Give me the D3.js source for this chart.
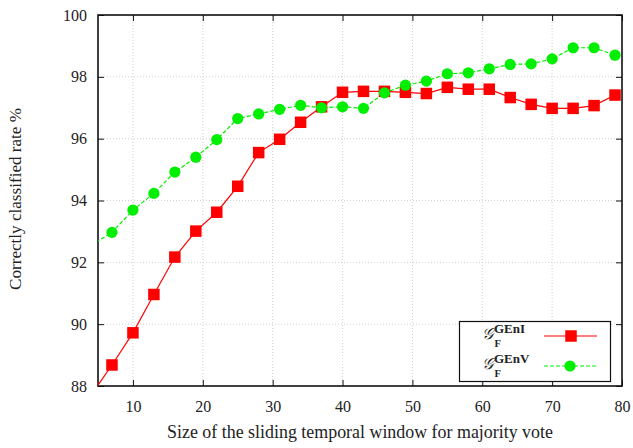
<!DOCTYPE html>
<html>
<head>
<meta charset="utf-8">
<script src="https://cdn.jsdelivr.net/npm/d3@7"></script>
<style>
  body { margin: 0; background: #fff; }
  text { font-family: "Liberation Serif", "DejaVu Serif", serif; fill: #222; }
</style>
</head>
<body>
<div id="chart"></div>
<script>
(function () {
  var width = 633,
    height = 448;

  // window sizes (x=4 lies left of the axis and is clipped)
  var windowSizes = [4, 7, 10, 13, 16, 19, 22, 25, 28, 31, 34, 37, 40, 43, 46, 49, 52, 55, 58, 61, 64, 67, 70, 73, 76, 79];
  var genI = [87.7, 88.68, 89.72, 90.96, 92.17, 93.01, 93.62, 94.46, 95.55, 95.98, 96.53, 97.03, 97.5, 97.53, 97.53, 97.5, 97.46, 97.66, 97.6, 97.6, 97.33, 97.11, 96.98, 96.98, 97.07, 97.41];
  var genV = [92.55, 92.97, 93.69, 94.23, 94.92, 95.4, 95.97, 96.65, 96.8, 96.95, 97.08, 97.0, 97.03, 96.98, 97.48, 97.73, 97.86, 98.1, 98.13, 98.26, 98.4, 98.42, 98.58, 98.94, 98.94, 98.7];
  var xTicks = [10, 20, 30, 40, 50, 60, 70, 80];
  var yTicks = [88, 90, 92, 94, 96, 98, 100];
  var seriesNames = ["GEnI", "GEnV"];

  var margin = { left: 98, right: 11, top: 15, bottom: 62 };

  var svg = d3.select("#chart")
    .append("svg")
    .attr("width", width)
    .attr("height", height)

  var x = d3.scaleLinear().domain([5, 80]).range([margin.left, width - margin.right]);
  var y = d3.scaleLinear().domain([88, 100]).range([height - margin.bottom, margin.top]);

  svg.append("clipPath").attr("id", "plot-clip")
    .append("rect")
    .attr("x", x(5)).attr("y", y(100))
    .attr("width", x(80) - x(5)).attr("height", y(88) - y(100))

  // grid
  var grid = svg.append("g").attr("class", "grid")
  grid.selectAll(".gx")
    .data(xTicks.filter(function (d) { return d < 80; }))
    .enter().append("line")
    .attr("x1", function (d) { return x(d); })
    .attr("x2", function (d) { return x(d); })
    .attr("y1", y(88)).attr("y2", y(100))
    .attr("stroke", "#c4c4c4").attr("stroke-width", 0.8).attr("stroke-dasharray", "1,2")
  grid.selectAll(".gy")
    .data(yTicks.filter(function (d) { return d > 88 && d < 100; }))
    .enter().append("line")
    .attr("y1", function (d) { return y(d); })
    .attr("y2", function (d) { return y(d); })
    .attr("x1", x(5)).attr("x2", x(80))
    .attr("stroke", "#c4c4c4").attr("stroke-width", 0.8).attr("stroke-dasharray", "1,2")

  // axes with inward ticks on all sides
  var tickLen = 6;
  svg.append("g")
    .attr("transform", "translate(0," + y(88) + ")")
    .call(d3.axisBottom(x).tickValues(xTicks).tickSizeInner(-tickLen).tickSizeOuter(0).tickPadding(15))
  svg.append("g")
    .attr("transform", "translate(0," + y(100) + ")")
    .call(d3.axisTop(x).tickValues(xTicks).tickSizeInner(-tickLen).tickSizeOuter(0).tickFormat(""))
  svg.append("g")
    .attr("transform", "translate(" + x(5) + ",0)")
    .call(d3.axisLeft(y).tickValues(yTicks).tickSizeInner(-tickLen).tickSizeOuter(0).tickPadding(11))
  svg.append("g")
    .attr("transform", "translate(" + x(80) + ",0)")
    .call(d3.axisRight(y).tickValues(yTicks).tickSizeInner(-tickLen).tickSizeOuter(0).tickFormat(""))

  svg.selectAll(".domain").remove()
  svg.selectAll(".tick line").attr("stroke", "#111").attr("stroke-width", 1)
  svg.selectAll(".tick text")
    .attr("font-size", "16px")
    .attr("fill", "#222")

  svg.append("rect")
    .attr("x", x(5)).attr("y", y(100))
    .attr("width", x(80) - x(5)).attr("height", y(88) - y(100))
    .attr("fill", "none").attr("stroke", "#111").attr("stroke-width", 1.6)

  // series
  var pointsI = windowSizes.map(function (d, i) { return { x: d, v: genI[i] }; });
  var pointsV = windowSizes.map(function (d, i) { return { x: d, v: genV[i] }; });

  var line = d3.line()
    .x(function (d) { return x(d.x); })
    .y(function (d) { return y(d.v); })

  var plot = svg.append("g").attr("clip-path", "url(#plot-clip)")

  plot.append("path")
    .datum(pointsV)
    .attr("d", line)
    .attr("fill", "none").attr("stroke", "#00ee00").attr("stroke-width", 1.2).attr("stroke-dasharray", "4,2")
  plot.append("path")
    .datum(pointsI)
    .attr("d", line)
    .attr("fill", "none").attr("stroke", "#ff0000").attr("stroke-width", 1.2)

  var sq = 11.5;
  plot.selectAll(".sq")
    .data(pointsI.filter(function (d) { return d.x >= 5; }))
    .enter().append("rect")
    .attr("x", function (d) { return x(d.x) - sq / 2; })
    .attr("y", function (d) { return y(d.v) - sq / 2; })
    .attr("width", sq).attr("height", sq)
    .attr("fill", "#ff0000")
  plot.selectAll(".dot")
    .data(pointsV.filter(function (d) { return d.x >= 5; }))
    .enter().append("circle")
    .attr("cx", function (d) { return x(d.x); })
    .attr("cy", function (d) { return y(d.v); })
    .attr("r", 5.6)
    .attr("fill", "#00ee00")

  // axis titles, sized to the widths seen in the reference
  function fitText(sel, target) {
    var w = sel.node().getComputedTextLength();
    if (w > 0) sel.attr("font-size", (16 * target / w).toFixed(2) + "px");
  }
  var xTitle = svg.append("text")
    .attr("x", 360)
    .attr("y", 438)
    .attr("text-anchor", "middle")
    .attr("font-size", "16px")
    .text("Size of the sliding temporal window for majority vote")
  fitText(xTitle, 386)
  var yTitle = svg.append("text")
    .attr("transform", "translate(21,199) rotate(-90)")
    .attr("text-anchor", "middle")
    .attr("font-size", "16px")
    .text("Correctly classified rate %")
  fitText(yTitle, 182)

  // legend
  var legend = svg.append("g")
  legend.append("rect")
    .attr("x", 459.5).attr("y", 321.5).attr("width", 151).attr("height", 60)
    .attr("fill", "#fff").attr("stroke", "#111").attr("stroke-width", 1.2)

  var entries = [
    { name: seriesNames[0], color: "#ff0000", dash: null, shape: "square", cy: 336 },
    { name: seriesNames[1], color: "#00ee00", dash: "4,2", shape: "circle", cy: 366 }
  ];
  entries.forEach(function (e) {
    legend.append("text")
      .attr("x", 482).attr("y", e.cy + 3)
      .attr("font-size", "16px").attr("font-style", "italic")
      .text("\uD835\uDCA2")
    legend.append("text")
      .attr("x", 494).attr("y", e.cy - 3.5)
      .attr("font-size", "13px").attr("font-weight", "bold")
      .text(e.name)
    legend.append("text")
      .attr("x", 494.5).attr("y", e.cy + 10.5)
      .attr("font-size", "10.5px").attr("font-weight", "bold")
      .text("F")
    legend.append("line")
      .attr("x1", 544).attr("x2", 597).attr("y1", e.cy).attr("y2", e.cy)
      .attr("stroke", e.color).attr("stroke-width", 1.2)
      .attr("stroke-dasharray", e.dash)
    if (e.shape === "square") {
      legend.append("rect")
        .attr("x", 571 - sq / 2).attr("y", e.cy - sq / 2).attr("width", sq).attr("height", sq)
        .attr("fill", e.color)
    } else {
      legend.append("circle")
        .attr("cx", 570).attr("cy", e.cy).attr("r", 5.6)
        .attr("fill", e.color)
    }
  })
})();
</script>
</body>
</html>
